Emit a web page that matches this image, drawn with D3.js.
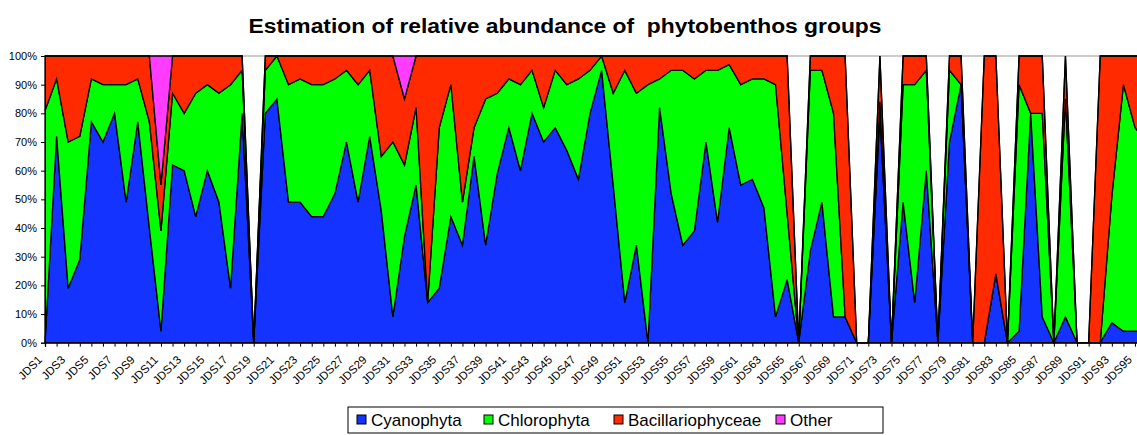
<!DOCTYPE html>
<html>
<head>
<meta charset="utf-8">
<script src="https://cdn.jsdelivr.net/npm/d3@7"></script>
<style>
  body { margin: 0; background: #fff; }
  svg { display: block; font-family: "Liberation Sans", Arial, sans-serif; }
</style>
</head>
<body>
<svg width="1137" height="435"></svg>
<script>
// sample sites JDS1..JDS96, values in % of the sample
var sites = d3.range(1, 97).map(function (i) { return "JDS" + i; });

var cyanophyta = [0, 72, 19, 29, 77, 70, 80, 49, 77, 40, 4, 62, 60, 44, 60, 49, 19, 80, 0, 80,
  85, 49, 49, 44, 44, 52, 70, 49, 72, 46, 9, 37, 55, 14, 19, 44, 34, 65, 34, 59,
  75, 60, 80, 70, 75, 67, 57, 80, 95, 55, 14, 34, 0, 82, 52, 34, 39, 70, 42, 75,
  55, 57, 47, 9, 22, 0, 32, 49, 9, 9, 0, 0, 80, 0, 49, 14, 60, 0, 70, 90,
  0, 0, 24, 0, 4, 80, 9, 0, 9, 0, 0, 0, 7, 4, 4, 4];

var chlorophyta = [81, 20, 51, 43, 15, 20, 10, 41, 15, 37, 35, 25, 20, 43, 30, 38, 71, 15, 0, 15,
  15, 41, 43, 46, 46, 40, 25, 41, 23, 19, 61, 25, 27, 0, 56, 46, 15, 10, 51, 28,
  17, 30, 15, 12, 20, 23, 35, 15, 5, 32, 81, 53, 90, 10, 43, 61, 53, 25, 53, 22,
  35, 35, 45, 81, 23, 0, 63, 46, 71, 0, 0, 0, 4, 0, 41, 76, 35, 0, 25, 0,
  0, 0, 0, 0, 86, 0, 71, 0, 76, 0, 0, 0, 44, 86, 71, 66];

var bacillariophyceae = [19, 8, 30, 28, 8, 10, 10, 10, 8, 23, 16, 13, 20, 13, 10, 13, 10, 5, 0, 5,
  0, 10, 8, 10, 10, 8, 5, 10, 5, 35, 30, 23, 18, 86, 25, 10, 51, 25, 15, 13,
  8, 10, 5, 18, 5, 10, 8, 5, 0, 13, 5, 13, 10, 8, 5, 5, 8, 5, 5, 3,
  10, 8, 8, 10, 55, 0, 5, 5, 20, 91, 0, 0, 16, 0, 10, 10, 5, 0, 5, 10,
  0, 100, 76, 0, 10, 20, 20, 0, 15, 0, 0, 100, 49, 10, 25, 30];

var other = d3.range(96).map(function (i) { return i === 10 ? 45 : i === 31 ? 15 : 0; });

var groups = ["Cyanophyta", "Chlorophyta", "Bacillariophyceae", "Other"];
var colors = ["#1533ff", "#00ff00", "#ff2a00", "#ff3cff"];

var table = sites.map(function (s, i) {
  return { site: s, Cyanophyta: cyanophyta[i], Chlorophyta: chlorophyta[i],
    Bacillariophyceae: bacillariophyceae[i], Other: other[i] };
});

var svg = d3.select("svg");
var x0 = 45, step = 11.596, yTop = 56, yBottom = 342.7;

var x = d3.scalePoint().domain(sites).range([x0, x0 + step * (sites.length - 1)]);
var y = d3.scaleLinear().domain([0, 100]).range([yBottom, yTop]);
var color = d3.scaleOrdinal().domain(groups).range(colors);

var series = d3.stack().keys(groups)(table);

var area = d3.area()
  .x(function (d) { return x(d.data.site); })
  .y0(function (d) { return y(d[0]); })
  .y1(function (d) { return y(d[1]); });

// top frame line at 100%
svg.append("line")
  .attr("x1", x0).attr("x2", 1137)
  .attr("y1", yTop).attr("y2", yTop)
  .attr("stroke", "#999").attr("stroke-width", 1);

svg.append("g")
  .selectAll("path")
  .data(series)
  .enter()
  .append("path")
  .attr("d", area)
  .attr("fill", function (d) { return color(d.key); })
  .attr("stroke", "#000")
  .attr("stroke-width", 1.3)
  .attr("stroke-linejoin", "miter");

// y axis
var yAxis = svg.append("g")
  .attr("transform", "translate(" + x0 + ",0)")
  .call(d3.axisLeft(y).tickValues(d3.range(0, 101, 10)).tickSize(4).tickPadding(4)
    .tickFormat(function (d) { return d + "%"; }));
yAxis.select(".domain").attr("stroke", "#000");
yAxis.selectAll("text").style("font-size", "11px").attr("fill", "#000");

// x axis
var xAxis = svg.append("g")
  .attr("transform", "translate(0," + yBottom + ")")
  .call(d3.axisBottom(x).tickSize(4).tickFormat(""));
xAxis.select(".domain").attr("stroke", "#000").attr("stroke-width", 1.3);

svg.append("g")
  .selectAll("text")
  .data(sites.filter(function (s, i) { return i % 2 === 0; }))
  .enter()
  .append("text")
  .attr("transform", function (d) { return "translate(" + (x(d) - 5) + "," + (yBottom + 15) + ") rotate(-45)"; })
  .attr("text-anchor", "end")
  .attr("dy", "0.35em")
  .style("font-size", "11.5px")
  .text(function (d) { return d; });

// title
svg.append("text")
  .attr("x", 565)
  .attr("y", 33)
  .attr("text-anchor", "middle")
  .attr("textLength", 633)
  .attr("lengthAdjust", "spacingAndGlyphs")
  .style("font-size", "20px")
  .style("font-weight", "bold")
  .style("white-space", "pre")
  .text("Estimation of relative abundance of  phytobenthos groups");

// legend
var legend = svg.append("g");
legend.append("rect")
  .attr("x", 348).attr("y", 407).attr("width", 535).attr("height", 26)
  .attr("fill", "#fff").attr("stroke", "#000");

var legendX = [357, 484, 614, 776];
var item = legend.selectAll(".item")
  .data(groups)
  .enter()
  .append("g")
  .attr("class", "item")
  .attr("transform", function (d, i) { return "translate(" + legendX[i] + ",415)"; });
item.append("rect")
  .attr("width", 9).attr("height", 9)
  .attr("fill", function (d) { return color(d); })
  .attr("stroke", "#000");
item.append("text")
  .attr("x", 14).attr("y", 5)
  .attr("dy", "0.35em")
  .style("font-size", "17px")
  .text(function (d) { return d; });
</script>
</body>
</html>
